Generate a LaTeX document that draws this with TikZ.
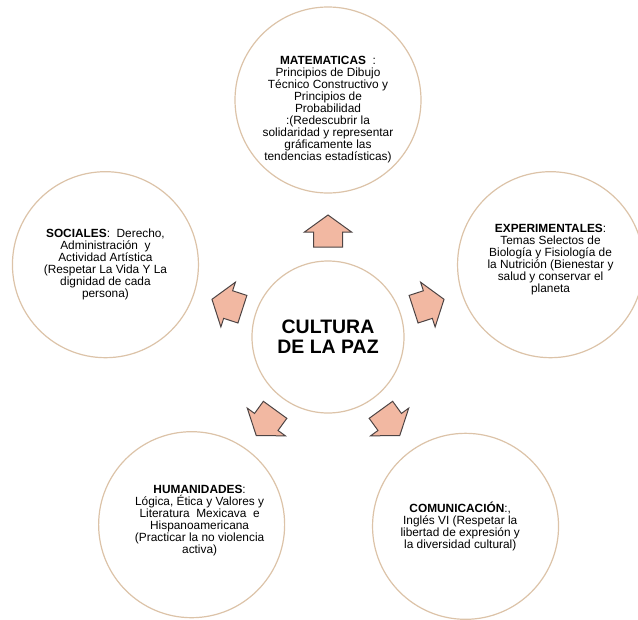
\documentclass[tikz,border=0pt]{standalone}
\usepackage{fontspec}
\setmainfont{Liberation Sans}
\usepackage{tikz}
\definecolor{ringline}{HTML}{DCC3A8}
\definecolor{arrowfill}{HTML}{F2B8A2}
\definecolor{arrowline}{HTML}{4D4444}

\begin{document}
\begin{tikzpicture}[x=0.75pt,y=0.75pt,
  ring/.style={circle,draw=ringline,line width=0.9pt,fill=white,minimum size=139.5pt,inner sep=0pt},
  hub/.style={ring,minimum size=114pt,font=\fontsize{14.6}{15}\selectfont\bfseries,align=center},
  txt/.style={align=center,inner sep=0pt,font=\fontsize{8.9}{9}\selectfont},
  blockarrow/.style={fill=arrowfill,draw=arrowline,line width=0.75pt,line join=miter}]
\useasboundingbox (-328,-282) rectangle (310,337);

\node[hub] (paz) at (0,0) {CULTURA\\DE LA PAZ};

\node[ring] (mat) at (90:237) {};
\node[ring] (soc) at (162:234) {};
\node[ring] (exp) at (18:234) {};
\node[ring] (hum) at (234:232) {};
\node[ring] (com) at (306:234) {};

\foreach \a in {90,162,18,234,306}
  \draw[blockarrow,rotate=\a] (90,-14.5) -- (105,-14.5) -- (105,-23.5) -- (122,0)
    -- (105,23.5) -- (105,14.5) -- (90,14.5) -- cycle;

\node[txt] (mattxt) at ([yshift=-7]mat.center) {\textbf{MATEMATICAS}\ \ :\\Principios de Dibujo\\Técnico Constructivo y\\Principios de\\Probabilidad\\:(Redescubrir la\\solidaridad y representar\\gráficamente las\\tendencias estadísticas)};
\node[txt] (soctxt) at (soc.center) {\textbf{SOCIALES}:\ \ Derecho,\\Administración\ \ y\\Actividad Artística\\(Respetar La Vida Y La\\dignidad de cada\\persona)};
\node[txt] (exptxt) at ([yshift=4]exp.center) {\textbf{EXPERIMENTALES}:\\Temas Selectos de\\Biología y Fisiología de\\la Nutrición (Bienestar y\\salud y conservar el\\planeta};
\node[txt] (humtxt) at ([xshift=6,yshift=3]hum.center) {\textbf{HUMANIDADES}:\\Lógica, Ética y Valores y\\Literatura\ \ Mexicava\ \ e\\Hispanoamericana\\(Practicar la no violencia\\activa)};
\node[txt] (comtxt) at ([xshift=-4]com.center) {\textbf{COMUNICACIÓN}:,\\Inglés VI (Respetar la\\libertad de expresión y\\la diversidad cultural)};
\end{tikzpicture}
\end{document}
